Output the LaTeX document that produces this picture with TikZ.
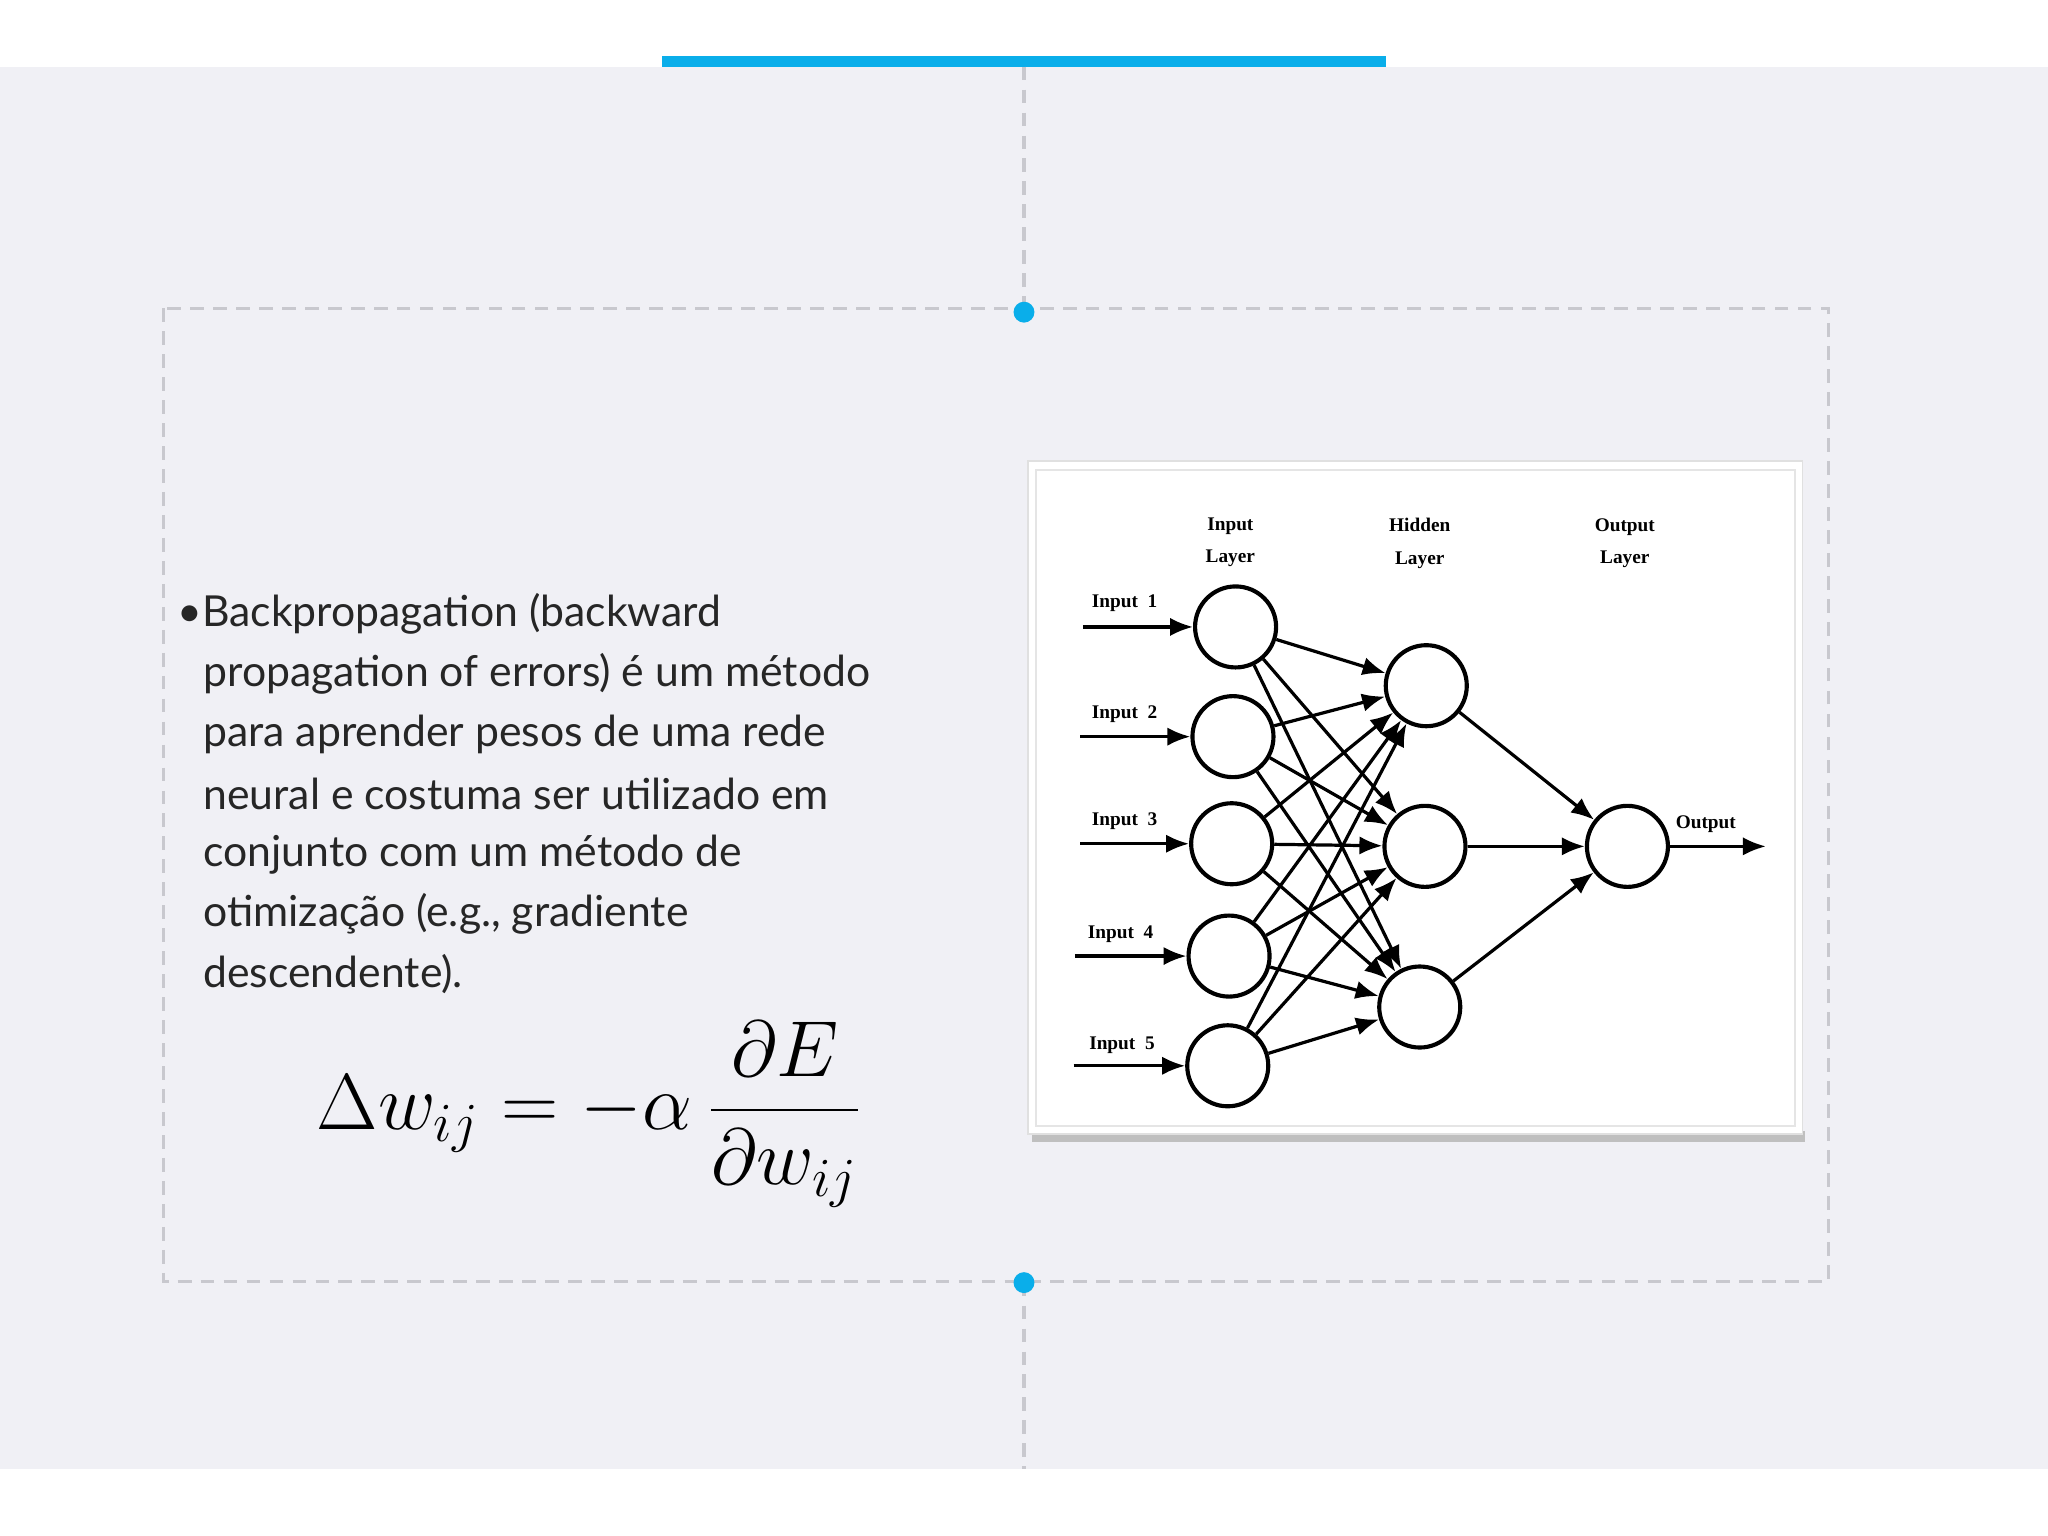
\documentclass[tikz,border=0pt]{standalone}
\usepackage{fontspec}
\setmainfont{Lato}
\newfontfamily\serifnet{Liberation Serif}
\usetikzlibrary{arrows.meta}
\definecolor{bg}{HTML}{F0F0F5}
\definecolor{accent}{HTML}{0AAEEA}
\definecolor{dashgray}{HTML}{C8C8CE}
\tikzset{
  txt/.style={anchor=west,inner sep=0pt,font=\fontsize{9.3}{11}\selectfont,text=black!85},
  neuron/.style={circle,draw,line width=0.9pt,minimum size=0.62cm,inner sep=0pt},
  edge/.style={-{Latex[length=5pt,width=4pt]},line width=0.7pt},
  lbl/.style={font=\serifnet\bfseries\fontsize{4.2}{5}\selectfont,align=center,inner sep=0pt},
  dl/.style={draw=dashgray,line width=0.7pt,dash pattern=on 3pt off 2pt}
}
\begin{document}
\begin{tikzpicture}[x=0.01cm,y=-0.01cm]
\useasboundingbox (0,0) rectangle (1568,1176);
\fill[white] (0,0) rectangle (1568,1176);
\fill[bg] (0,51) rectangle (1568,1125);
\fill[accent] (507,43) rectangle (1061,51);
\coordinate (t0) at (784,51);
\coordinate (t1) at (784,239);
\coordinate (b1) at (784,982);
\coordinate (b0) at (784,1125);
\draw[dl] (t0) -- (t1);
\draw[dl] (b1) -- (b0);
\draw[dl] (125,236) rectangle (1400,981);
\fill[accent] (t1) circle (8);
\fill[accent] (b1) circle (8);
% text
\node[txt] (l1) at (135,470) {\textbullet Backpropagation (backward};
\node[txt] (l2) at (155,516) {propagation of errors) é um método};
\node[txt] (l3) at (155,562) {para aprender pesos de uma rede};
\node[txt] (l4) at (155,608) {neural e costuma ser utilizado em};
\node[txt] (l5) at (155,654) {conjunto com um método de};
\node[txt] (l6) at (155,700) {otimização (e.g., gradiente};
\node[txt] (l7) at (155,746) {descendente).};
\node[inner sep=0pt,font=\fontsize{17}{20}\selectfont] (eq) at (452,853) {$\displaystyle\Delta w_{ij} = -\alpha\,\frac{\partial E}{\partial w_{ij}}$};
% network panel
\fill[black!25] (790,866) rectangle (1382,874);
\fill[white,draw=black!12] (787,353) rectangle (1380,868);
\draw[black!10] (793,360) rectangle (1374,862);
\node[neuron] (i1) at (946,480) {};
\node[neuron] (i2) at (944,564) {};
\node[neuron] (i3) at (943,646) {};
\node[neuron] (i4) at (941,732) {};
\node[neuron] (i5) at (940,816) {};
\node[neuron] (h1) at (1092,525) {};
\node[neuron] (h2) at (1091,648) {};
\node[neuron] (h3) at (1087,771) {};
\node[neuron] (o) at (1246,648) {};
\foreach \i in {1,...,5}{\foreach \h in {1,2,3}{\draw[edge] (i\i) -- (h\h);}}
\foreach \h in {1,2,3}{\draw[edge] (h\h) -- (o);}
\coordinate (a1) at (829,480); \coordinate (a2) at (827,564); \coordinate (a3) at (827,646);
\coordinate (a4) at (823,732); \coordinate (a5) at (822,816); \coordinate (oe) at (1352,648);
\foreach \i in {1,...,5}{\draw[edge] (a\i) -- (i\i);}
\draw[edge] (o) -- (oe);
\node[lbl] (n1) at (861,462) {Input\ \ 1};
\node[lbl] (n2) at (861,547) {Input\ \ 2};
\node[lbl] (n3) at (861,629) {Input\ \ 3};
\node[lbl] (n4) at (858,715) {Input\ \ 4};
\node[lbl] (n5) at (859,800) {Input\ \ 5};
\node[lbl] (no) at (1306,631) {Output};
\node[lbl,align=center] (L1) at (942,415) {Input\\[2pt]Layer};
\node[lbl,align=center] (L2) at (1087,416) {Hidden\\[2pt]Layer};
\node[lbl,align=center] (L3) at (1244,416) {Output\\[2pt]Layer};
\end{tikzpicture}
\end{document}
